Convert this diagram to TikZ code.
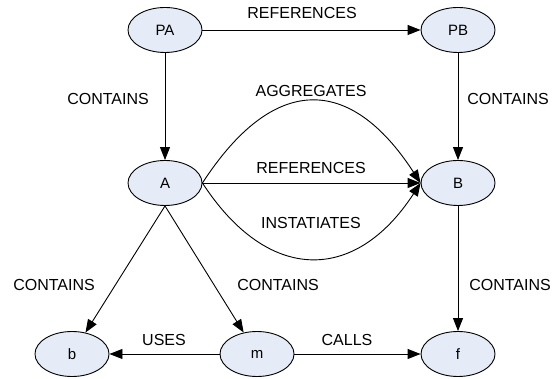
\documentclass[tikz,border=0pt]{standalone}
\usepackage{fontspec}
\setmainfont{Liberation Sans}
\usetikzlibrary{arrows.meta,shapes.geometric}
\definecolor{nodefill}{RGB}{230,236,247}
\tikzset{
  ent/.style={ellipse, draw=black, fill=nodefill, line width=0.9pt, minimum width=74pt, minimum height=45pt, inner sep=0pt, font=\fontsize{15}{18}\selectfont},
  lbl/.style={font=\fontsize{16}{19}\selectfont, inner sep=0pt},
  conn/.style={draw=black, line width=0.9pt, -{Triangle[length=13pt,width=10pt]}}
}
\begin{document}
\begin{tikzpicture}[x=1pt,y=1pt]
\useasboundingbox (0,0) rectangle (556,379);
\node[ent] (PA) at (165,349) {PA};
\node[ent] (PB) at (458,349) {PB};
\node[ent] (A) at (165,196) {A};
\node[ent] (B) at (458,196) {B};
\node[ent] (b) at (72,25) {b};
\node[ent] (m) at (257,25) {m};
\node[ent] (f) at (458,25) {f};

\draw[conn] (PA) -- (PB);
\draw[conn] (PA) -- (A);
\draw[conn] (PB) -- (B);
\draw[conn] (A.east) -- (B.west);
\draw[conn] (A.east) .. controls +(57:130) and +(123:130) .. (B.west);
\draw[conn] (A.east) .. controls +(-57:120) and +(-123:120) .. (B.west);
\draw[conn] (A.south) -- (b);
\draw[conn] (A.south) -- (m);
\draw[conn] (B) -- (f);
\draw[conn] (m) -- (b);
\draw[conn] (m) -- (f);

\node[lbl] (l1) at (302,366) {REFERENCES};
\node[lbl] (l2) at (108,280) {CONTAINS};
\node[lbl] (l3) at (508,280) {CONTAINS};
\node[lbl] (l4) at (311,288) {AGGREGATES};
\node[lbl] (l5) at (311,211) {REFERENCES};
\node[lbl] (l6) at (311,156) {INSTATIATES};
\node[lbl] (l7) at (54,94) {CONTAINS};
\node[lbl] (l8) at (278,94) {CONTAINS};
\node[lbl] (l9) at (510,94) {CONTAINS};
\node[lbl] (l10) at (164,39) {USES};
\node[lbl] (l11) at (347,39) {CALLS};
\end{tikzpicture}
\end{document}
